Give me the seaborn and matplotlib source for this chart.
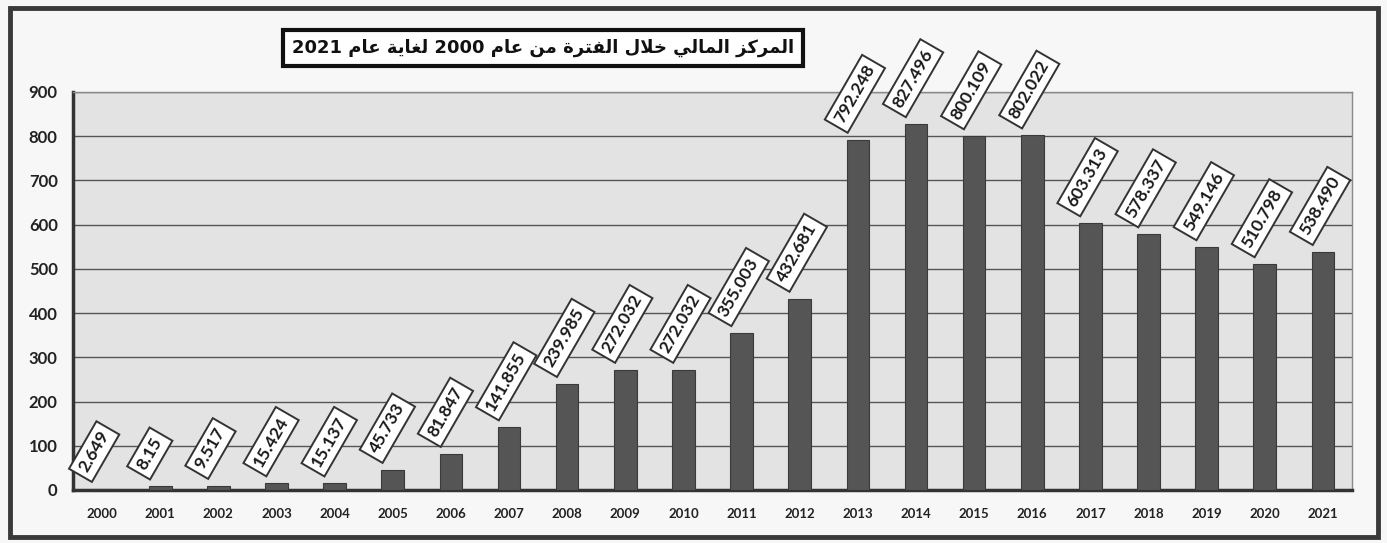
import matplotlib
matplotlib.use("Agg")
import matplotlib.pyplot as plt
import seaborn as sns
import pandas as pd
from matplotlib.patches import Rectangle

# ---------------- data ----------------
years = ["2000", "2001", "2002", "2003", "2004", "2005", "2006", "2007", "2008",
         "2009", "2010", "2011", "2012", "2013", "2014", "2015", "2016", "2017",
         "2018", "2019", "2020", "2021"]
values = [2.649, 8.15, 9.517, 15.424, 15.137, 45.733, 81.847, 141.855, 239.985,
          272.032, 272.032, 355.003, 432.681, 792.248, 827.496, 800.109, 802.022,
          603.313, 578.337, 549.146, 510.798, 538.490]
value_labels = ["2.649", "8.15", "9.517", "15.424", "15.137", "45.733", "81.847",
                "141.855", "239.985", "272.032", "272.032", "355.003", "432.681",
                "792.248", "827.496", "800.109", "802.022", "603.313", "578.337",
                "549.146", "510.798", "538.490"]
y_ticks = [0, 100, 200, 300, 400, 500, 600, 700, 800, 900]
TITLE = "المركز المالي خلال الفترة من عام 2000 لغاية عام 2021"

# ------------- minimal Arabic shaping (matplotlib has no complex text layout) -------------
FORMS = {
    '\u0627': ('\uFE8D', '\uFE8E', None, None),        # alef
    '\u0644': ('\uFEDD', '\uFEDE', '\uFEDF', '\uFEE0'),  # lam
    '\u0645': ('\uFEE1', '\uFEE2', '\uFEE3', '\uFEE4'),  # meem
    '\u0631': ('\uFEAD', '\uFEAE', None, None),        # reh
    '\u0643': ('\uFED9', '\uFEDA', '\uFEDB', '\uFEDC'),  # kaf
    '\u0632': ('\uFEAF', '\uFEB0', None, None),        # zain
    '\u064A': ('\uFEF1', '\uFEF2', '\uFEF3', '\uFEF4'),  # yeh
    '\u062E': ('\uFEA5', '\uFEA6', '\uFEA7', '\uFEA8'),  # khah
    '\u0641': ('\uFED1', '\uFED2', '\uFED3', '\uFED4'),  # feh
    '\u062A': ('\uFE95', '\uFE96', '\uFE97', '\uFE98'),  # teh
    '\u0629': ('\uFE93', '\uFE94', None, None),        # teh marbuta
    '\u0646': ('\uFEE5', '\uFEE6', '\uFEE7', '\uFEE8'),  # noon
    '\u0639': ('\uFEC9', '\uFECA', '\uFECB', '\uFECC'),  # ain
    '\u063A': ('\uFECD', '\uFECE', '\uFECF', '\uFED0'),  # ghain
}


def _dual(t):
    return t in FORMS and FORMS[t][2] is not None


def shape_word(w):
    toks, i = [], 0
    while i < len(w):
        if w[i] == '\u0644' and i + 1 < len(w) and w[i + 1] == '\u0627':
            toks.append('LA')
            i += 2
        else:
            toks.append(w[i])
            i += 1
    res = []
    for k, t in enumerate(toks):
        prev = toks[k - 1] if k > 0 else None
        nxt = toks[k + 1] if k + 1 < len(toks) else None
        jp = prev is not None and _dual(prev)
        if t == 'LA':
            res.append('\uFEFC' if jp else '\uFEFB')
            continue
        if t not in FORMS:
            res.append(t)
            continue
        jn = _dual(t) and nxt is not None and (nxt in FORMS or nxt == 'LA')
        iso, fin, ini, med = FORMS[t]
        if jp and jn:
            res.append(med)
        elif jp:
            res.append(fin)
        elif jn:
            res.append(ini)
        else:
            res.append(iso)
    return ''.join(res)


def visual_arabic(text):
    words = text.split(' ')
    out = [w if w.isdigit() else shape_word(w)[::-1] for w in reversed(words)]
    return ' '.join(out)


# ---------------- plot ----------------
sns.set_theme(style="white")
plt.rcParams['font.family'] = ['Lato', 'DejaVu Sans']

W, H = 1387, 543
fig = plt.figure(figsize=(W / 100, H / 100), dpi=100)
fig.patch.set_facecolor('#f7f7f7')

ax_l, ax_r, ax_t, ax_b = 73, 1352, 92, 490
ax = fig.add_axes([ax_l / W, 1 - ax_b / H, (ax_r - ax_l) / W, (ax_b - ax_t) / H])
ax.set_facecolor('#e3e3e3')

df = pd.DataFrame({"year": years, "value": values})
sns.barplot(data=df, x="year", y="value", ax=ax, color="#555555", width=0.39,
            saturation=1, edgecolor="#3a3a3a", linewidth=0.8, zorder=3)

ax.set_xlim(-0.5, len(years) - 0.5)
ax.set_ylim(0, 900)
ax.set_yticks(y_ticks)
ax.set_yticklabels([str(t) for t in y_ticks], fontsize=12, fontweight='bold',
                   color='#222222')
ax.set_xticks(range(len(years)))
ax.set_xticklabels(years, fontsize=9.5, fontweight='bold', color='#222222')
ax.set_xticks([i - 0.5 for i in range(len(years) + 1)], minor=True)
ax.tick_params(axis='x', which='major', length=0, pad=13)
ax.tick_params(axis='x', which='minor', length=4, width=2, color='#333333',
               direction='out')
ax.tick_params(axis='y', which='major', length=5, width=2, color='#333333',
               direction='out', pad=6)
ax.set_xlabel("")
ax.set_ylabel("")

ax.yaxis.grid(True, color='#555555', linewidth=1.0, zorder=0)
ax.set_axisbelow(True)
for side in ('left', 'bottom'):
    ax.spines[side].set_color('#333333')
    ax.spines[side].set_linewidth(2.5)
for side in ('top', 'right'):
    ax.spines[side].set_color('#8a8a8a')
    ax.spines[side].set_linewidth(1.0)
    ax.spines[side].set_visible(True)

# value labels in rotated boxes
for i, (v, lab) in enumerate(zip(values, value_labels)):
    ax.annotate(lab, xy=(i, v), xytext=(-19, 18), textcoords='offset pixels',
                rotation=60, rotation_mode='anchor', ha='left', va='center',
                fontsize=12.5, fontweight='bold', color='#1a1a1a', zorder=5,
                bbox=dict(boxstyle='square,pad=0.3', fc='white', ec='#333333',
                          lw=1.4), annotation_clip=False)

# title box
fig.text(543 / W, 1 - 48 / H, visual_arabic(TITLE), ha='center', va='center',
         fontsize=13, fontweight='bold', family=['DejaVu Sans'], color='#111111',
         bbox=dict(boxstyle='square,pad=0.5', fc='white', ec='#111111', lw=3))

# outer frame
fig.patches.append(Rectangle((10 / W, 6 / H), (1378 - 10) / W, (537 - 8) / H,
                             transform=fig.transFigure, fill=False,
                             ec='#3a3a3a', lw=3.5))

fig.savefig("out.png", dpi=100, facecolor=fig.get_facecolor())
